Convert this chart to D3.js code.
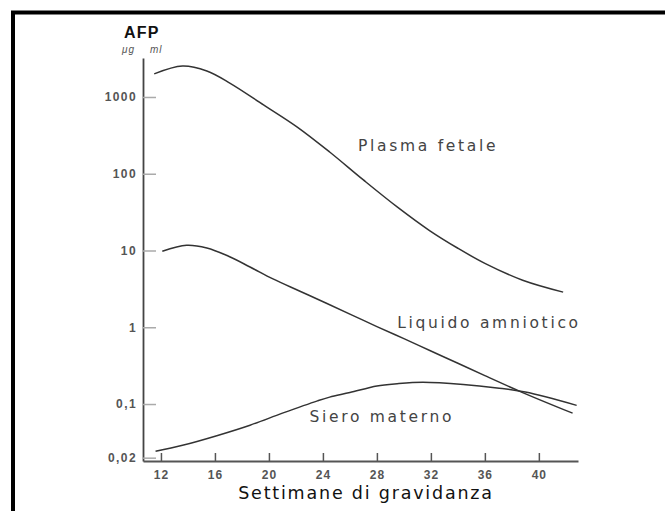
<!DOCTYPE html>
<html>
<head>
<meta charset="utf-8">
<script src="https://cdn.jsdelivr.net/npm/d3@7"></script>
<style>
	body { margin: 0; background: #fff; }
	.tick text { font-family: "Liberation Sans", Arial, sans-serif; font-weight: bold; fill: #555; }
</style>
</head>
<body>
<div id="chart"></div>
<script>
// AFP curves (weeks of pregnancy vs ug/ml, log scale)
var plasmaWeeks = [11.5, 13.6, 15.4, 17.1, 19.6, 22.1, 24.5, 27.0, 29.5, 31.9, 34.0, 36.0, 38.8, 41.8];
var plasmaValues = [2000, 2530, 2180, 1520, 790, 406, 192, 83, 37, 18.2, 10.7, 6.8, 4.1, 2.87];

var liquidoWeeks = [12.1, 13.9, 15.4, 16.9, 18.6, 20.3, 22.3, 24.3, 26.2, 28.0, 30.0, 32.0, 34.0, 36.0, 38.8, 42.5];
var liquidoValues = [9.8, 11.7, 10.8, 8.6, 6.1, 4.27, 2.95, 2.04, 1.43, 1.02, 0.71, 0.49, 0.34, 0.234, 0.141, 0.076];

var sieroWeeks = [11.6, 13.6, 16.2, 18.6, 21.0, 23.6, 24.5, 26.0, 28.0, 29.5, 31.4, 34.4, 36.9, 39.0, 42.8];
var sieroValues = [0.0243, 0.029, 0.039, 0.053, 0.076, 0.11, 0.123, 0.141, 0.172, 0.184, 0.192, 0.18, 0.162, 0.143, 0.096];

var xTicks = [12, 16, 20, 24, 28, 32, 36, 40];
var yTicks = [1000, 100, 10, 1, 0.1, 0.02];
var yTickLabels = ["1000", "100", "10", "1", "0,1", "0,02"];

var seriesLabels = [
	{ text: "Plasma fetale", week: 26.6, value: 200 },
	{ text: "Liquido amniotico", week: 29.5, value: 0.99 },
	{ text: "Siero materno", week: 23.0, value: 0.059 }
];

var width = 665,
	height = 511;

var svg = d3.select("#chart")
	.append("svg")
	.attr("width", width)
	.attr("height", height);

// frame
svg.append("rect")
	.attr("x", 13)
	.attr("y", 12.5)
	.attr("width", 700)
	.attr("height", 600)
	.attr("fill", "none")
	.attr("stroke", "#000")
	.attr("stroke-width", 4);

// scales
var x = d3.scaleLinear()
	.domain([10.67, 42.9])
	.range([143, 578]);

var y = d3.scaleLog()
	.domain([0.0181, 3220])
	.range([461, 58]);

// y axis
var yAxis = svg.append("g")
	.attr("transform", "translate(" + x.range()[0] + ",0)")
	.call(d3.axisLeft(y)
		.tickValues(yTicks)
		.tickSizeInner(-13)
		.tickSizeOuter(0)
		.tickPadding(6)
		.tickFormat(function (d, i) { return yTickLabels[i]; }));
yAxis.select(".domain").attr("stroke", "#444").attr("stroke-width", 1.8);
yAxis.selectAll(".tick line").attr("stroke", "#aaa").attr("stroke-width", 1.5);
yAxis.selectAll(".tick text").attr("font-size", 12).attr("letter-spacing", 1.4);

// x axis
var xAxis = svg.append("g")
	.attr("transform", "translate(0," + y.range()[0] + ")")
	.call(d3.axisBottom(x)
		.tickValues(xTicks)
		.tickSizeInner(-8)
		.tickSizeOuter(0)
		.tickPadding(9));
xAxis.select(".domain").attr("stroke", "#555").attr("stroke-width", 1.8);
xAxis.selectAll(".tick line").attr("stroke", "#555").attr("stroke-width", 1.5);
xAxis.selectAll(".tick text").attr("font-size", 12).attr("letter-spacing", 1);

// curves
var line = d3.line()
	.x(function (d) { return x(d[0]); })
	.y(function (d) { return y(d[1]); })
	.curve(d3.curveCatmullRom.alpha(0.5));

[[plasmaWeeks, plasmaValues], [liquidoWeeks, liquidoValues], [sieroWeeks, sieroValues]].forEach(function (s) {
	svg.append("path")
		.datum(d3.zip(s[0], s[1]))
		.attr("d", line)
		.attr("fill", "none")
		.attr("stroke", "#333")
		.attr("stroke-width", 1.5);
});

// series labels
svg.selectAll(".series-label")
	.data(seriesLabels)
	.enter()
	.append("text")
	.attr("class", "series-label")
	.attr("x", function (d) { return x(d.week); })
	.attr("y", function (d) { return y(d.value); })
	.attr("font-family", "DejaVu Sans, sans-serif")
	.attr("font-size", 15.5)
	.attr("letter-spacing", 2.7)
	.attr("fill", "#444")
	.text(function (d) { return d.text; });

// axis titles
svg.append("text")
	.attr("x", 124)
	.attr("y", 38)
	.attr("font-family", "Liberation Sans, Arial, sans-serif")
	.attr("font-weight", "bold")
	.attr("font-size", 16)
	.attr("letter-spacing", 1.2)
	.attr("fill", "#111")
	.text("AFP");

var unit = svg.append("text")
	.attr("y", 53)
	.attr("font-family", "Liberation Sans, Arial, sans-serif")
	.attr("font-style", "italic")
	.attr("font-size", 10)
	.attr("letter-spacing", 1)
	.attr("fill", "#555");
unit.append("tspan").attr("x", 122).text("\u03bcg");
unit.append("tspan").attr("x", 150).text("ml");

svg.append("text")
	.attr("x", 366)
	.attr("y", 499)
	.attr("text-anchor", "middle")
	.attr("font-family", "DejaVu Sans, sans-serif")
	.attr("font-size", 17.5)
	.attr("letter-spacing", 1.8)
	.attr("fill", "#111")
	.text("Settimane di gravidanza");
</script>
</body>
</html>
